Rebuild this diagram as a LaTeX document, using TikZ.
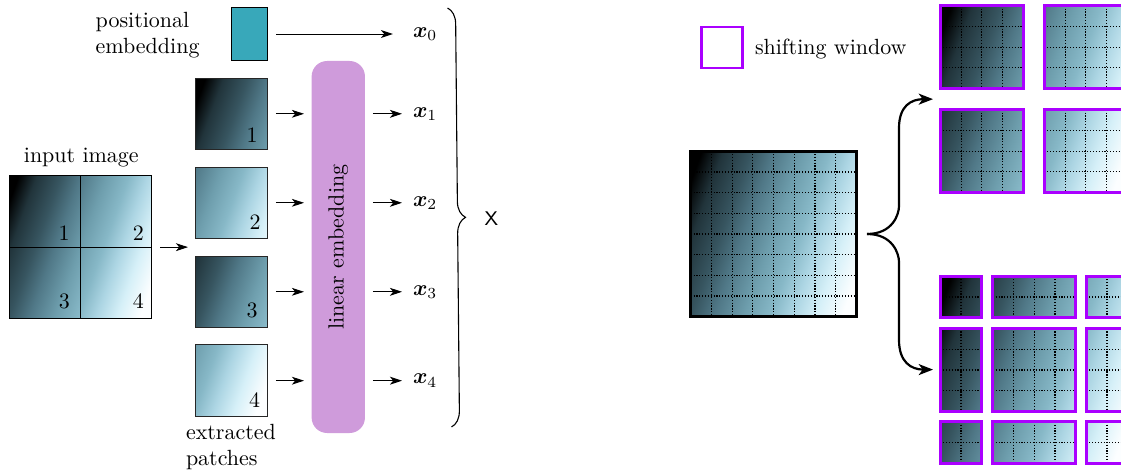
\documentclass[tikz,border=0pt]{standalone}
\usepackage{bm}
\usetikzlibrary{arrows.meta,calc,decorations.pathreplacing}
\definecolor{g0}{RGB}{0,0,0}
\definecolor{g1}{RGB}{33,52,59}
\definecolor{g2}{RGB}{55,85,96}
\definecolor{g3}{RGB}{80,120,135}
\definecolor{g4}{RGB}{110,158,173}
\definecolor{g5}{RGB}{135,184,199}
\definecolor{g6}{RGB}{172,213,227}
\definecolor{g7}{RGB}{214,240,248}
\definecolor{g8}{RGB}{252,254,255}
\definecolor{teal1}{RGB}{56,168,186}
\definecolor{lincol}{RGB}{207,155,219}
\definecolor{winpurple}{RGB}{170,0,255}
\pgfdeclarehorizontalshading{imgshade}{100bp}{color(0bp)=(g0); color(21bp)=(g0); color(27bp)=(g1); color(35bp)=(g2); color(41.5bp)=(g3); color(50bp)=(g4); color(57.5bp)=(g5); color(63.5bp)=(g6); color(70.5bp)=(g7); color(78bp)=(g8); color(100bp)=(g8)}
\def\u{0.455pt}
\def\cell{20.7}
% shading of a part of a virtual image; #1,#2 offset of the part, #3 side of the image
\newcommand\ppshade[3]{%
  \shade[imgshading] ($(path picture bounding box.north west)-(#1,#2)$) rectangle ++(#3,#3);}
% dotted grid inside a node of #1 x #2 cells
\newcommand\ppgrid[2]{%
  \pgfmathtruncatemacro\gnx{#1-1}%
  \pgfmathtruncatemacro\gny{#2-1}%
  \foreach \k in {1,...,\gnx}{\draw[griddot] ($(path picture bounding box.north west)+(\k*\cell,0)$) -- ($(path picture bounding box.south west)+(\k*\cell,0)$);}%
  \foreach \k in {1,...,\gny}{\draw[griddot] ($(path picture bounding box.north west)+(0,\k*\cell)$) -- ($(path picture bounding box.north east)+(0,\k*\cell)$);}}
\newcommand\window[7]{%
  \node[win, minimum width=#4*\cell*\u, minimum height=#5*\cell*\u,
        path picture={\ppshade{#6*\cell}{#7*\cell}{8*\cell}\ppgrid{#4}{#5}}] (#1) at (#2,#3) {};}
\begin{document}
\begin{tikzpicture}[x=0.455pt, y=-0.455pt,
  arr/.style={-{Stealth[length=5.5pt,width=3.6pt,inset=1.5pt]}, line width=0.45pt},
  bigarr/.style={-{Stealth[length=6.5pt,width=5pt,inset=1.8pt]}, line width=1pt},
  patch/.style={draw=black!85, line width=0.45pt, minimum size=71.5*\u, inner sep=0pt, outer sep=0pt},
  win/.style={draw=winpurple, line width=1.2pt, inner sep=0pt, outer sep=0pt},
  griddot/.style={draw=black, line width=0.55pt, dash pattern=on 0.55pt off 0.75pt},
  imgshading/.style={shading=imgshade, shading angle=-20},
  lbl/.style={inner sep=0pt, outer sep=0pt}]
\useasboundingbox (0,0) rectangle (1121,473);

% ---- left part ----
\node[lbl, align=left, anchor=west] (postext) at (95.7,35) {positional\\embedding};
\node[draw, fill=teal1, line width=0.45pt, minimum width=35.6*\u, minimum height=53.4*\u, inner sep=0pt, outer sep=0pt] (pos) at (249.5,34) {};

\node[lbl, anchor=base] (inlabel) at (81.3,162.7) {input image};
\node[draw, line width=0.45pt, minimum size=142.7*\u, inner sep=0pt, outer sep=0pt,
      path picture={\ppshade{0}{0}{142.7}}] (inimg) at (80.35,247.15) {};
\draw[line width=0.45pt] (inimg.north) -- (inimg.south) (inimg.west) -- (inimg.east);
\node[lbl] (d1) at (64,232.7) {1};
\node[lbl] (d2) at (138.3,232.7) {2};
\node[lbl] (d3) at (64.3,301.3) {3};
\node[lbl] (d4) at (138.3,301.3) {4};

\node[patch, path picture={\ppshade{0}{0}{143}}] (p1) at (231.5,113.8) {};
\node[patch, path picture={\ppshade{71.5}{0}{143}}] (p2) at (231.5,202.8) {};
\node[patch, path picture={\ppshade{0}{71.5}{143}}] (p3) at (231.5,291.8) {};
\node[patch, path picture={\ppshade{71.5}{71.5}{143}}] (p4) at (231.5,380.7) {};
\node[lbl] (n1) at (252,135) {1};
\node[lbl] (n2) at (255,222) {2};
\node[lbl] (n3) at (252,310) {3};
\node[lbl] (n4) at (254.5,400) {4};
\node[lbl, align=left, anchor=west] (extext) at (186,447) {extracted\\patches};

\coordinate (pin) at (188,247.15);
\draw[arr, shorten <=8.3*\u] (inimg.east) -- (pin);

\node[fill=lincol, rounded corners=7pt, minimum width=53.3*\u, minimum height=372*\u, inner sep=0pt, outer sep=0pt] (lin) at (338.3,247) {};
\node[lbl, rotate=90] (lintext) at (lin.center) {linear embedding};

\node[lbl, anchor=west] (x0) at (413,34) {$\bm{x}_0$};
\node[lbl, anchor=west] (x1) at (413,113.8) {$\bm{x}_1$};
\node[lbl, anchor=west] (x2) at (413,202.8) {$\bm{x}_2$};
\node[lbl, anchor=west] (x3) at (413,291.8) {$\bm{x}_3$};
\node[lbl, anchor=west] (x4) at (413,380.7) {$\bm{x}_4$};

\draw[arr, shorten <=8.7*\u, shorten >=20*\u] (pos.east) -- (x0.west);
\foreach \i in {1,2,3,4}{
  \draw[arr, shorten <=8.7*\u, shorten >=7.7*\u] (p\i.east) -- (p\i.east -| lin.west);
  \draw[arr, shorten <=8*\u, shorten >=11*\u] (x\i.west -| lin.east) -- (x\i.west);
}

\draw[decorate, decoration={brace, amplitude=7.3pt}, line width=0.5pt] (447.5,8) -- (451.5,427);
\node[lbl, font=\small\sffamily] (xall) at (491.5,218.3) {X};

% ---- right part ----
\node[win, line width=1pt, minimum size=41*\u] (leg) at (722,47.2) {};
\node[lbl, anchor=base west] (legtext) at (755,54.3) {shifting window};

\node[draw, line width=1.2pt, minimum size=8*\cell*\u, inner sep=0pt, outer sep=0pt,
      path picture={\ppshade{0}{0}{8*\cell}\ppgrid{8}{8}}] (big) at (773.5,234) {};

\window{t1}{981.8}{47.15}{4}{4}{0}{0}
\window{t2}{1085.8}{47.15}{4}{4}{4}{0}
\window{t3}{981.8}{151.15}{4}{4}{0}{4}
\window{t4}{1085.8}{151.15}{4}{4}{4}{4}

\window{b11}{961}{297}{2}{2}{0}{0}
\window{b21}{1034.2}{297}{4}{2}{2}{0}
\window{b31}{1107.05}{297}{2}{2}{6}{0}
\window{b12}{961}{370}{2}{4}{0}{2}
\window{b22}{1034.2}{370}{4}{4}{2}{2}
\window{b32}{1107.05}{370}{2}{4}{6}{2}
\window{b13}{961}{442.5}{2}{2}{0}{6}
\window{b23}{1034.2}{442.5}{4}{2}{2}{6}
\window{b33}{1107.05}{442.5}{2}{2}{6}{6}

\coordinate (bs) at ($(big.east)+(10.7,0)$);
\coordinate (tg1) at (933,99.15);
\coordinate (tg2) at (933,369.6);
\draw[bigarr] (bs) .. controls +(26,0) and +(0,8) .. (899,206) -- (899,128) .. controls +(0,-22) and +(-22,0) .. (tg1);
\draw[bigarr] (bs) .. controls +(26,0) and +(0,-8) .. (899,262) -- (899,340) .. controls +(0,22) and +(-22,0) .. (tg2);
\end{tikzpicture}
\end{document}
